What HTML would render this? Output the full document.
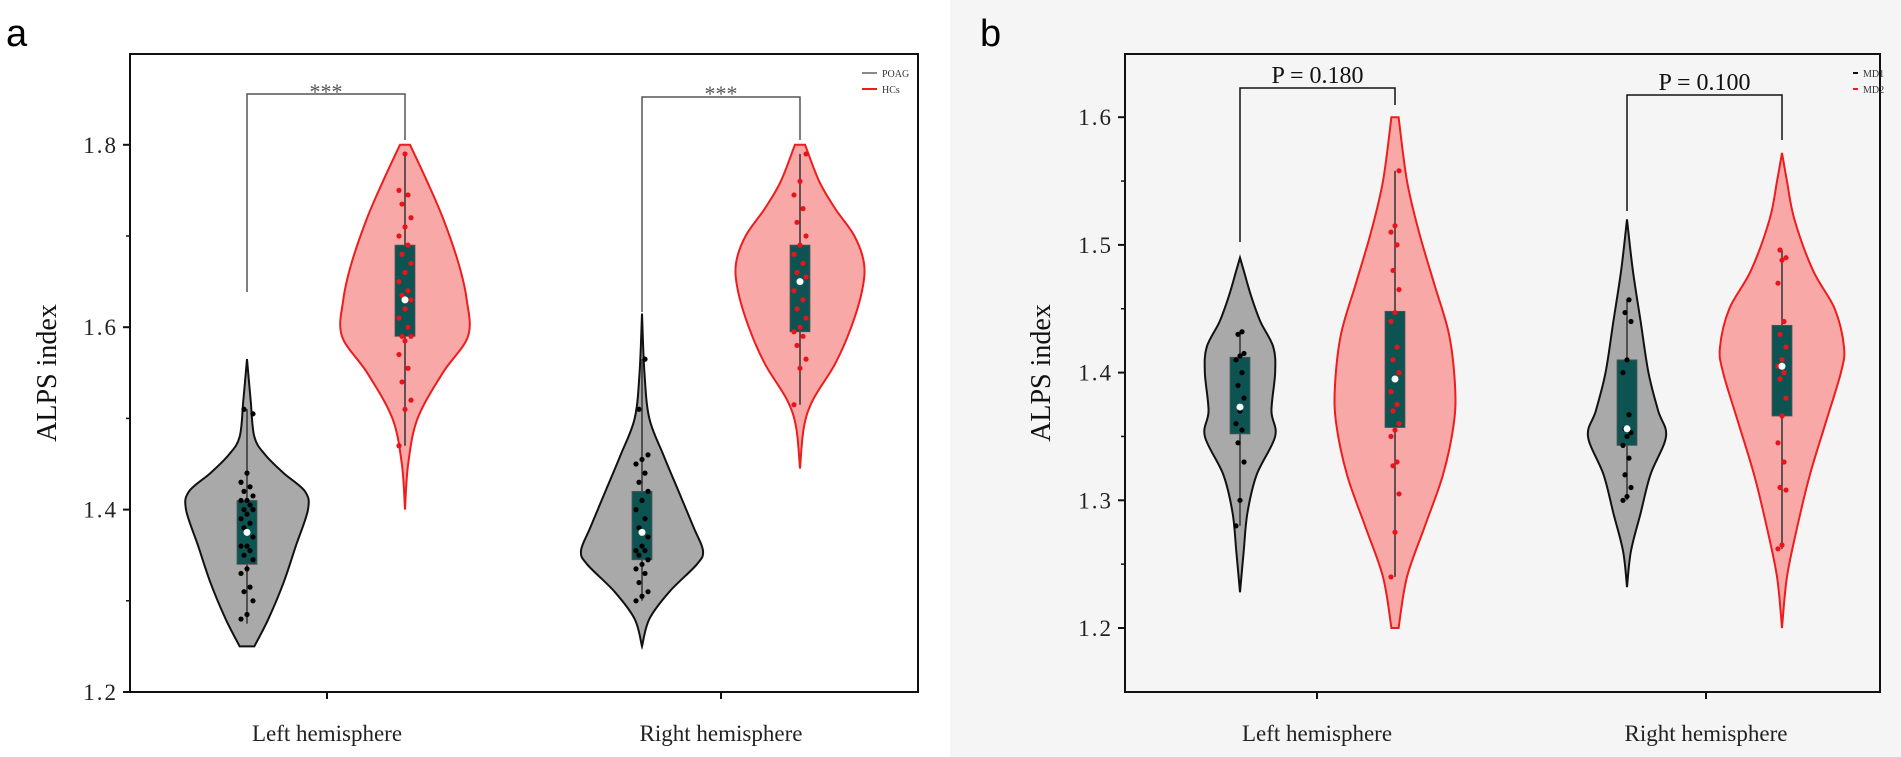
<!DOCTYPE html>
<html><head><meta charset="utf-8"><style>
body{margin:0;background:#fff;}
svg{display:block;font-family:"Liberation Serif",serif;}
</style></head><body>
<svg id="chart" width="1901" height="757" viewBox="0 0 1901 757" xmlns="http://www.w3.org/2000/svg">
<rect x="0" y="0" width="950" height="757" fill="#ffffff"/>
<rect x="950" y="0" width="951" height="757" fill="#f5f5f5"/>
<g id="root"></g>
</svg>
<script>
// ---------- Panel a data ----------
const aCategories = ["Left hemisphere", "Right hemisphere"];
const aGroups = ["POAG", "HCs"];
const aTicks = [1.2, 1.4, 1.6, 1.8];
const aMinorTicks = [1.3, 1.5, 1.7];
const aViolinPOAGL = [[1.25,0.12],[1.28,0.35],[1.32,0.6],[1.36,0.8],[1.40,1.0],[1.42,0.95],[1.44,0.6],[1.46,0.3],[1.48,0.12],[1.52,0.06],[1.565,0]];
const aViolinHCsL = [[1.40,0],[1.45,0.05],[1.50,0.2],[1.55,0.6],[1.59,1.0],[1.63,0.98],[1.67,0.85],[1.72,0.6],[1.76,0.35],[1.80,0.08]];
const aViolinPOAGR = [[1.25,0],[1.28,0.12],[1.31,0.45],[1.34,0.9],[1.355,1.0],[1.38,0.85],[1.42,0.6],[1.46,0.35],[1.50,0.12],[1.55,0.04],[1.615,0]];
const aViolinHCsR = [[1.445,0],[1.49,0.06],[1.52,0.2],[1.56,0.55],[1.60,0.8],[1.64,0.97],[1.67,1.0],[1.70,0.85],[1.73,0.55],[1.76,0.3],[1.80,0.08]];
// box stats: [whiskerLow, q1, q3, whiskerHigh, mean]
const aBoxPOAGL = [1.275, 1.34, 1.41, 1.51, 1.375];
const aBoxHCsL = [1.47, 1.59, 1.69, 1.79, 1.63];
const aBoxPOAGR = [1.30, 1.345, 1.42, 1.565, 1.375];
const aBoxHCsR = [1.515, 1.595, 1.69, 1.79, 1.65];
const aPtsPOAGL = [1.28,1.285,1.30,1.31,1.315,1.33,1.335,1.345,1.35,1.355,1.36,1.36,1.37,1.38,1.385,1.39,1.395,1.40,1.40,1.405,1.41,1.41,1.415,1.42,1.425,1.43,1.44,1.505,1.51];
const aPtsHCsL = [1.47,1.51,1.52,1.54,1.555,1.57,1.585,1.59,1.59,1.60,1.61,1.62,1.63,1.635,1.64,1.65,1.66,1.67,1.68,1.69,1.70,1.71,1.72,1.735,1.745,1.75,1.79];
const aPtsPOAGR = [1.30,1.305,1.31,1.32,1.33,1.335,1.34,1.345,1.35,1.355,1.355,1.36,1.37,1.38,1.39,1.40,1.41,1.42,1.43,1.44,1.45,1.455,1.46,1.51,1.565];
const aPtsHCsR = [1.515,1.555,1.565,1.58,1.59,1.595,1.60,1.61,1.62,1.63,1.64,1.65,1.655,1.66,1.67,1.68,1.69,1.70,1.715,1.73,1.745,1.76,1.79];
const aSig = ["***", "***"];

// ---------- Panel b data ----------
const bCategories = ["Left hemisphere", "Right hemisphere"];
const bGroups = ["MD1", "MD2"];
const bTicks = [1.2, 1.3, 1.4, 1.5, 1.6];
const bMinorTicks = [1.25, 1.35, 1.45, 1.55];
const bViolinMD1L = [[1.228,0],[1.26,0.1],[1.29,0.2],[1.32,0.45],[1.35,0.95],[1.37,0.85],[1.40,0.95],[1.42,0.9],[1.44,0.55],[1.46,0.3],[1.48,0.1],[1.49,0]];
const bViolinMD2L = [[1.20,0.06],[1.24,0.2],[1.28,0.5],[1.32,0.8],[1.36,0.98],[1.39,1.0],[1.43,0.9],[1.47,0.65],[1.51,0.4],[1.55,0.2],[1.60,0.06]];
const bViolinMD1R = [[1.232,0],[1.26,0.1],[1.29,0.35],[1.32,0.6],[1.35,1.0],[1.37,0.8],[1.40,0.55],[1.44,0.35],[1.48,0.15],[1.52,0]];
const bViolinMD2R = [[1.20,0],[1.24,0.08],[1.28,0.25],[1.32,0.45],[1.36,0.7],[1.40,0.95],[1.42,1.0],[1.45,0.85],[1.48,0.5],[1.52,0.2],[1.55,0.08],[1.572,0]];
const bBoxMD1L = [1.28, 1.352, 1.412, 1.432, 1.373];
const bBoxMD2L = [1.24, 1.357, 1.448, 1.558, 1.395];
const bBoxMD1R = [1.30, 1.343, 1.41, 1.457, 1.356];
const bBoxMD2R = [1.262, 1.366, 1.437, 1.496, 1.405];
const bPtsMD1L = [1.28,1.30,1.33,1.345,1.355,1.36,1.37,1.38,1.39,1.40,1.41,1.413,1.415,1.43,1.432];
const bPtsMD2L = [1.24,1.275,1.305,1.327,1.33,1.35,1.355,1.36,1.37,1.375,1.385,1.395,1.40,1.41,1.42,1.44,1.447,1.465,1.48,1.50,1.51,1.515,1.558];
const bPtsMD1R = [1.30,1.303,1.31,1.32,1.333,1.343,1.35,1.353,1.356,1.367,1.40,1.41,1.44,1.447,1.457];
const bPtsMD2R = [1.262,1.265,1.308,1.31,1.33,1.345,1.366,1.38,1.395,1.40,1.405,1.41,1.42,1.43,1.44,1.47,1.488,1.49,1.496];
const bSig = ["P = 0.180", "P = 0.100"];

const NS = "http://www.w3.org/2000/svg";
const root = document.getElementById("root");
function mk(tag, attrs, parent, text){
  const el = document.createElementNS(NS, tag);
  for (const k in attrs) el.setAttribute(k, attrs[k]);
  if (text !== undefined) el.textContent = text;
  (parent || root).appendChild(el);
  return el;
}
function smoothPath(pts){
  let d = "M" + pts[0][0] + "," + pts[0][1];
  for (let i = 0; i < pts.length - 1; i++){
    const p0 = pts[Math.max(0,i-1)], p1 = pts[i], p2 = pts[i+1], p3 = pts[Math.min(pts.length-1,i+2)];
    const c1x = p1[0] + (p2[0]-p0[0])/6, c1y = p1[1] + (p2[1]-p0[1])/6;
    const c2x = p2[0] - (p3[0]-p1[0])/6, c2y = p2[1] - (p3[1]-p1[1])/6;
    d += " C" + c1x + "," + c1y + " " + c2x + "," + c2y + " " + p2[0] + "," + p2[1];
  }
  return d;
}

function panel(cfg){
  const g = mk("g", {});
  
  
  const y = v => cfg.y0 - (v - cfg.vmin) * cfg.scale;
  cfg.violins.forEach((vd, i) => {
    const cx = cfg.centers[i];
    const hw = cfg.halfWidths[i];
    const right = vd.map(p => [cx + p[1]*hw, y(p[0])]);
    const left = vd.slice().reverse().map(p => [cx - p[1]*hw, y(p[0])]);
    let d = smoothPath(right);
    d += " L" + left[0][0] + "," + left[0][1] + smoothPath(left).replace(/^M[^C]*/, " ") + " Z";
    const grpIdx = i % 2;
    const path = mk("path", {d: d, fill: cfg.fills[grpIdx], stroke: cfg.strokes[grpIdx], "stroke-width": 2}, g);
    
    
  });
  cfg.boxes.forEach((b, i) => {
    const cx = cfg.centers[i];
    const grpIdx = i % 2;
    const wl = mk("line", {x1: cx, x2: cx, y1: y(b[0]), y2: y(b[3]), stroke: "#333", "stroke-width": 1.5}, g);
    
    
    const r = mk("rect", {x: cx - cfg.boxHalf, y: y(b[2]), width: cfg.boxHalf*2, height: y(b[1]) - y(b[2]), fill: "#0d5352", stroke: "#555", "stroke-width": 0.8}, g);
    
    
    const pts = cfg.points[i];
    pts.forEach((v, j) => {
      const off = (((j * 7) % 5) - 2) * cfg.jitter;
      const c = mk("circle", {cx: cx + off, cy: y(v), r: 2.6, fill: cfg.dotColors[grpIdx]}, g);
      
      
    });
    const m = mk("circle", {cx: cx, cy: y(b[4]), r: 3.5, fill: "#ffffff"}, g);
    
    
  });
  cfg.brackets.forEach((br, i) => {
    const xa = cfg.centers[i*2], xb = cfg.centers[i*2+1];
    const p = mk("polyline", {points: xa+","+br[0]+" "+xa+","+br[1]+" "+xb+","+br[1]+" "+xb+","+br[2], fill: "none", stroke: cfg.bracketColor, "stroke-width": 1.5}, g);
    
    
    const t = mk("text", {x: (xa+xb)/2, y: br[3], "text-anchor": "middle", "font-size": cfg.sigSize, fill: cfg.sigColor}, g, cfg.sig[i]);
    
    
  });
  const fr = mk("rect", {x: cfg.left, y: cfg.top, width: cfg.right - cfg.left, height: cfg.y0Box - cfg.top, fill: "none", stroke: "#111", "stroke-width": 2}, g);
  
  
  cfg.ticks.forEach(v => {
    mk("line", {x1: cfg.left - 7, x2: cfg.left, y1: y(v), y2: y(v), stroke: "#111", "stroke-width": 2}, g);
    const t = mk("text", {x: cfg.left - 12, y: y(v) + 8, "text-anchor": "end", "font-size": 23, fill: "#222", "letter-spacing": "2"}, g, v.toFixed(1));
    
    
  });
  cfg.minor.forEach(v => {
    mk("line", {x1: cfg.left - 4, x2: cfg.left, y1: y(v), y2: y(v), stroke: "#111", "stroke-width": 1.5}, g);
  });
  cfg.cats.forEach((c, i) => {
    const x = cfg.xticks[i];
    mk("line", {x1: x, x2: x, y1: cfg.y0Box, y2: cfg.y0Box + 7, stroke: "#111", "stroke-width": 2}, g);
    const t = mk("text", {x: x, y: cfg.y0Box + 49, "text-anchor": "middle", "font-size": 23, fill: "#222"}, g, c);
    
    
  });
  const yt = mk("text", {x: 0, y: 0, transform: "translate(" + cfg.ytX + "," + ((cfg.top + cfg.y0Box)/2) + ") rotate(-90)", "text-anchor": "middle", "font-size": 28, fill: "#111"}, g, "ALPS index");
  
  
  const pl = mk("text", {x: cfg.letterX, y: 46, "font-family": "Liberation Sans, sans-serif", "font-size": 38, fill: "#000"}, g, cfg.letter);
  
  
  cfg.groups.forEach((gn, i) => {
    const ly = cfg.legY + i * 16;
    const l = mk("line", {x1: cfg.legX, x2: cfg.legX + cfg.legLen, y1: ly, y2: ly, stroke: cfg.legColors[i], "stroke-width": 2}, g);
    
    
    const t = mk("text", {x: cfg.legX + cfg.legLen + 5, y: ly + 4, "font-size": 10, fill: "#333"}, g, gn);
    
    
  });
}

panel({
  name: "panel-a", letter: "a", letterX: 6,
  left: 130, right: 918, top: 54, y0Box: 692,
  vmin: 1.2, y0: 692, scale: 912,
  ticks: aTicks, minor: aMinorTicks, cats: aCategories, xticks: [327, 721],
  groups: aGroups,
  centers: [247, 405, 642, 800], halfWidths: [61, 63, 61, 64],
  violins: [aViolinPOAGL, aViolinHCsL, aViolinPOAGR, aViolinHCsR],
  boxes: [aBoxPOAGL, aBoxHCsL, aBoxPOAGR, aBoxHCsR],
  points: [aPtsPOAGL, aPtsHCsL, aPtsPOAGR, aPtsHCsR],
  fills: ["#a9a9a9", "#f9a8a8"], strokes: ["#111", "#ee1c1c"], dotColors: ["#000", "#e8141c"],
  boxHalf: 10, jitter: 3,
  brackets: [[292, 94, 140, 99], [312, 97, 140, 101]], sig: aSig, sigSize: 22, sigColor: "#555", bracketColor: "#555",
  ytX: 56, legX: 862, legY: 73, legLen: 15, legColors: ["#888", "#ee1c1c"]
});
panel({
  name: "panel-b", letter: "b", letterX: 980,
  left: 1125, right: 1880, top: 54, y0Box: 692,
  vmin: 1.2, y0: 628, scale: 1277,
  ticks: bTicks, minor: bMinorTicks, cats: bCategories, xticks: [1317, 1706],
  groups: bGroups,
  centers: [1240, 1395, 1627, 1782], halfWidths: [37, 60, 39, 62],
  violins: [bViolinMD1L, bViolinMD2L, bViolinMD1R, bViolinMD2R],
  boxes: [bBoxMD1L, bBoxMD2L, bBoxMD1R, bBoxMD2R],
  points: [bPtsMD1L, bPtsMD2L, bPtsMD1R, bPtsMD2R],
  fills: ["#a9a9a9", "#f9a8a8"], strokes: ["#111", "#ee1c1c"], dotColors: ["#000", "#e8141c"],
  boxHalf: 10, jitter: 2,
  brackets: [[242, 88, 105, 83], [211, 95, 140, 90]], sig: bSig, sigSize: 24, sigColor: "#111", bracketColor: "#111",
  ytX: 1050, legX: 1853, legY: 73, legLen: 5, legColors: ["#111", "#ee1c1c"]
});
</script>
</body></html>
